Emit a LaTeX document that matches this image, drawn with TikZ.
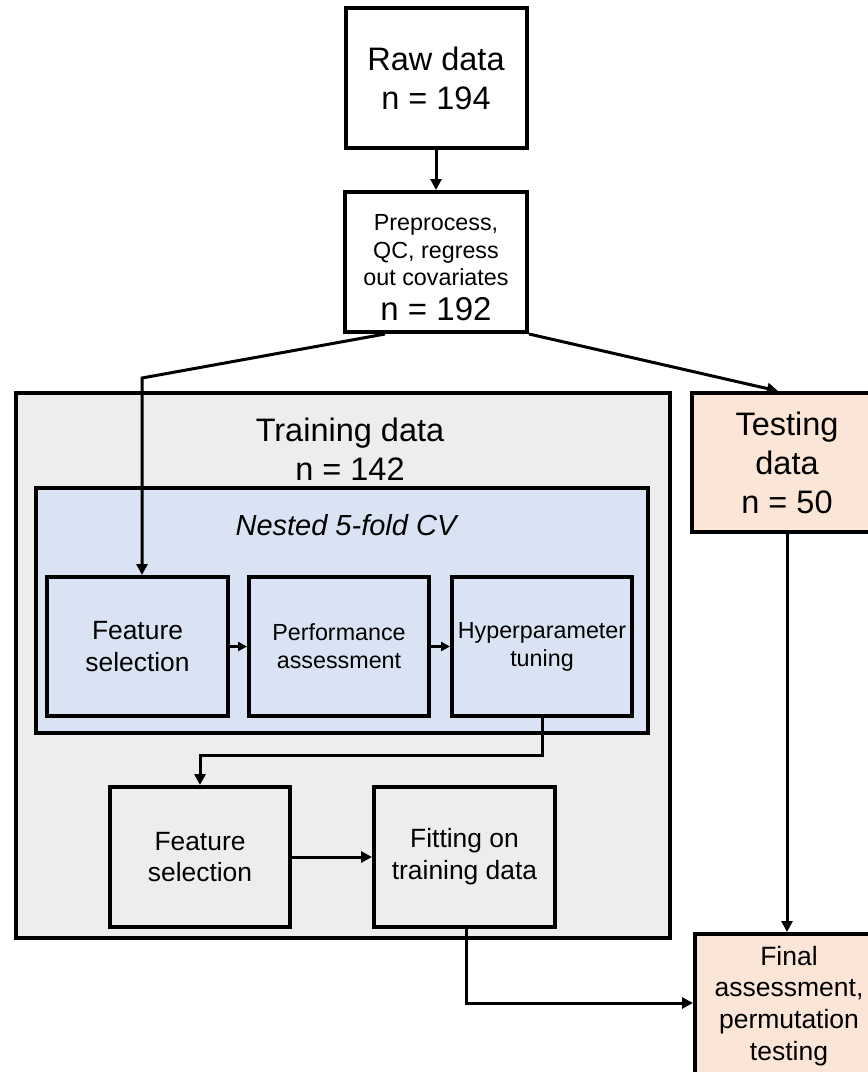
\documentclass[tikz,border=0pt]{standalone}
\usepackage{fontspec}
\setmainfont{Liberation Sans}
\usetikzlibrary{arrows.meta}
\definecolor{traingrey}{HTML}{EDEDED}
\definecolor{cvblue}{HTML}{DAE3F3}
\definecolor{peach}{HTML}{FBE5D6}
\newcommand{\fsz}[1]{\fontsize{#1}{1.2\dimexpr#1pt\relax}\selectfont}
\tikzset{
  box/.style={draw=black, line width=4pt, inner sep=0pt, align=center, anchor=center},
  conn/.style={line width=3pt, draw=black},
  arr/.style={conn, -{Triangle[length=11pt,width=11pt]}},
  sarr/.style={conn, -{Triangle[length=9pt,width=9pt]}},
}
\begin{document}
\begin{tikzpicture}[x=1pt, y=-1pt]
\useasboundingbox (0,0) rectangle (868,1072);
\clip (0,0) rectangle (868,1072);

% top of the pipeline
\node[box, fill=white, minimum width=181pt, minimum height=140pt, font=\fsz{32.5}] (raw) at (436,78)
  {Raw data\\ n = 194};
\node[box, fill=white, minimum width=182pt, minimum height=140pt,
      font=\fontsize{23.3}{27.5}\selectfont] (prep) at (436,262)
  {\rule{0pt}{27pt}Preprocess,\\ QC, regress\\ out covariates\\[7pt]
   {\fontsize{33}{38}\selectfont n = 192}};

% training block
\node[box, fill=traingrey, minimum width=654pt, minimum height=545pt] (train) at (343,665.5) {};
\node[inner sep=0pt, align=center, font=\fsz{32.5}] (traintxt) at (350,449) {Training data\\ n = 142};

% nested cross-validation
\node[box, fill=cvblue, minimum width=612pt, minimum height=245pt] (cv) at (342,610.5) {};
\node[inner sep=0pt, anchor=base, font=\fsz{29}\itshape] (cvtxt) at (346,535) {Nested 5-fold CV};

\node[box, fill=cvblue, minimum width=181pt, minimum height=139pt, font=\fsz{26.4}] (fs1) at (137.5,646.5)
  {Feature\\ selection};
\node[box, fill=cvblue, minimum width=180pt, minimum height=139pt, font=\fsz{23.3}] (perf) at (339,646.5)
  {Performance\\ assessment};
\node[box, fill=cvblue, minimum width=180pt, minimum height=139pt, font=\fsz{23.3}] (hyp) at (542,646.5)
  {Hyperparameter\\ tuning};

% final model on training data
\node[box, fill=traingrey, minimum width=180pt, minimum height=140pt, font=\fsz{26.4}] (fs2) at (200,857)
  {Feature\\ selection};
\node[box, fill=traingrey, minimum width=181pt, minimum height=140pt, font=\fsz{26.4}] (fit) at (464.5,857)
  {Fitting on\\ training data};

% testing branch
\node[box, fill=peach, minimum width=190pt, minimum height=139pt, font=\fsz{32.5}] (test) at (787,462.5)
  {Testing\\ data\\ n = 50};
\node[box, fill=peach, minimum width=188pt, minimum height=144pt, font=\fsz{26.5}] (final) at (789,1006)
  {Final\\ assessment,\\ permutation\\ testing};

% connectors
\coordinate (prepL) at (385,0);
\coordinate (testin) at (778,0);
\coordinate (split) at (142,378);
\coordinate (loop) at (542,755);
\coordinate (down) at (466,1003);

\draw[arr] (raw.south) -- (prep.north);
\draw[arr] (prep.south -| prepL) -- (split) -- (split |- fs1.north);
\draw[arr] (prep.south east) -- (test.north -| testin);
\draw[sarr] (fs1.east) -- (perf.west);
\draw[sarr] (perf.east) -- (hyp.west);
\draw[arr] (hyp.south) -- (loop) -- (loop -| fs2.north) -- (fs2.north);
\draw[arr] (fs2.east) -- (fit.west);
\draw[arr] (fit.south -| down) -- (down) -- (down -| final.west);
\draw[arr] (test.south) -- (test.south |- final.north);
\end{tikzpicture}
\end{document}
